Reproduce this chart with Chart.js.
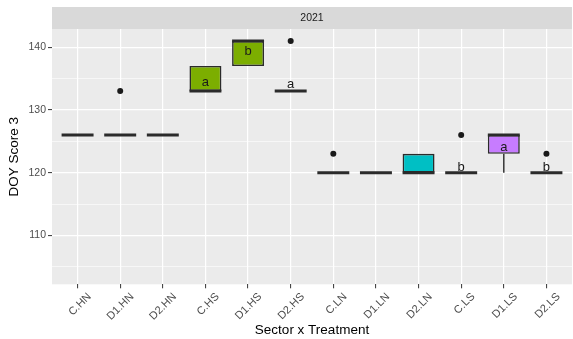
<!DOCTYPE html>
<html>
<head>
<meta charset="utf-8">
<title>DOY Score 3</title>
<script src="https://cdn.jsdelivr.net/npm/chart.js@4.4.0/dist/chart.umd.min.js"></script>
<style>
    body { margin: 0; background: #ffffff; overflow: hidden; }
    #wrap { position: relative; width: 576px; height: 339px; }
</style>
</head>
<body>
<div id="wrap"><canvas id="doyChart"></canvas></div>
<script>
'use strict';

//
// Data: DOY score 3 by sector x treatment (2021)
//

const groups = ['C.HN', 'D1.HN', 'D2.HN', 'C.HS', 'D1.HS', 'D2.HS', 'C.LN', 'D1.LN', 'D2.LN', 'C.LS', 'D1.LS', 'D2.LS'];
const treatments = ['HN', 'HN', 'HN', 'HS', 'HS', 'HS', 'LN', 'LN', 'LN', 'LS', 'LS', 'LS'];

const lowerQuartile = [126, 126, 126, 133, 137, 133, 120, 120, 120, 120, 123, 120];
const upperQuartile = [126, 126, 126, 137, 141, 133, 120, 120, 123, 120, 126, 120];
const medians       = [126, 126, 126, 133, 141, 133, 120, 120, 120, 120, 126, 120];
const whiskerLow    = [126, 126, 126, 133, 137, 133, 120, 120, 120, 120, 120, 120];
const whiskerHigh   = [126, 126, 126, 137, 141, 133, 120, 120, 123, 120, 126, 120];
const outliers      = [null, 133, null, null, null, 141, 123, null, null, 126, null, 123];

// significance letters and the value they sit on
const letters = ['', '', '', 'a', 'b', 'a', '', '', '', 'b', 'a', 'b'];
const letterY = [null, null, null, 133.8, 138.8, 133.5, null, null, null, 120.3, 123.5, 120.3];

const yTicks = [105, 110, 115, 120, 125, 130, 135, 140];
const stripLabel = '2021';

const treatmentColors = { HN: '#F8766D', HS: '#7CAE00', LN: '#00BFC4', LS: '#C77CFF' };

const FONT = '"Liberation Sans", Arial, sans-serif';
const HALF_BOX = 0.375;


//
// Build the box plot pieces
//

function boxData() {
    return groups.map((g, i) => ({ x: i, y: [lowerQuartile[i], upperQuartile[i]] }));
}

function medianData() {
    let pts = [];
    groups.forEach((g, i) => {
        pts.push({ x: i - HALF_BOX, y: medians[i] });
        pts.push({ x: i + HALF_BOX, y: medians[i] });
        pts.push({ x: i + 0.5, y: null });
    });
    return pts;
}

function whiskerData() {
    let pts = [];
    groups.forEach((g, i) => {
        if (whiskerLow[i] < lowerQuartile[i]) {
            pts.push({ x: i, y: whiskerLow[i] }, { x: i, y: lowerQuartile[i] }, { x: i, y: null });
        }
        if (whiskerHigh[i] > upperQuartile[i]) {
            pts.push({ x: i, y: upperQuartile[i] }, { x: i, y: whiskerHigh[i] }, { x: i, y: null });
        }
    });
    return pts;
}

function outlierData() {
    let pts = [];
    outliers.forEach((v, i) => {
        if (v !== null) pts.push({ x: i, y: v });
    });
    return pts;
}


// grey panel, facet strip and the letters
const panelPlugin = {
    id: 'panel',
    beforeDraw(chart) {
        const { ctx, chartArea } = chart;
        ctx.save();
        ctx.fillStyle = '#EBEBEB';
        ctx.fillRect(chartArea.left, chartArea.top, chartArea.right - chartArea.left, chartArea.bottom - chartArea.top);
        ctx.fillStyle = '#D9D9D9';
        ctx.fillRect(chartArea.left, 7, chartArea.right - chartArea.left, chartArea.top - 7);
        ctx.fillStyle = '#1A1A1A';
        ctx.font = '10.5px ' + FONT;
        ctx.textAlign = 'center';
        ctx.textBaseline = 'middle';
        ctx.fillText(stripLabel, (chartArea.left + chartArea.right) / 2, (7 + chartArea.top) / 2 + 0.5);
        ctx.restore();
    },
    afterDatasetsDraw(chart) {
        const ctx = chart.ctx;
        const xs = chart.scales.x;
        const ys = chart.scales.y;
        ctx.save();
        ctx.font = '13px ' + FONT;
        ctx.fillStyle = '#1A1A1A';
        ctx.textAlign = 'center';
        ctx.textBaseline = 'alphabetic';
        letters.forEach((t, i) => {
            if (!t) return;
            ctx.fillText(t, xs.getPixelForValue(i), ys.getPixelForValue(letterY[i]));
        });
        ctx.restore();
    }
};


Chart.defaults.font.family = FONT;

new Chart(document.getElementById('doyChart').getContext('2d'), {
    type: 'bar',
    data: {
        datasets: [
            {
                type: 'bar',
                data: boxData(),
                backgroundColor: treatments.map(t => treatmentColors[t]),
                borderColor: '#2B2B2B',
                borderWidth: 1.6,
                borderSkipped: false,
                barPercentage: 0.75,
                categoryPercentage: 1,
                order: 4
            },
            {
                type: 'line',
                data: whiskerData(),
                borderColor: '#333333',
                borderWidth: 1.5,
                pointRadius: 0,
                spanGaps: false,
                order: 3
            },
            {
                type: 'line',
                data: medianData(),
                borderColor: '#2B2B2B',
                borderWidth: 3,
                borderCapStyle: 'butt',
                pointRadius: 0,
                spanGaps: false,
                order: 2
            },
            {
                type: 'scatter',
                data: outlierData(),
                pointRadius: 3,
                pointBackgroundColor: '#1A1A1A',
                pointBorderWidth: 0,
                order: 1
            }
        ]
    },
    options: {
        responsive: true,
        maintainAspectRatio: false,
        animation: false,
        events: [],
        layout: { padding: { top: 29, left: 0, right: 0, bottom: 0 } },
        plugins: { legend: { display: false }, tooltip: { enabled: false } },
        scales: {
            x: {
                type: 'linear',
                min: -0.6,
                max: 11.6,
                offset: false,
                afterBuildTicks: s => { s.ticks = groups.map((g, i) => ({ value: i })); },
                afterFit: s => { s.height = 54.7; },
                ticks: {
                    callback: v => groups[v],
                    autoSkip: false,
                    minRotation: 45,
                    maxRotation: 45,
                    labelOffset: 12,
                    padding: 2,
                    color: '#4D4D4D',
                    font: { size: 11 }
                },
                grid: { offset: false, color: '#FFFFFF', lineWidth: 1.2, tickColor: '#333333', tickLength: 4, tickWidth: 1 },
                border: { display: false },
                title: {
                    display: true,
                    text: 'Sector x Treatment',
                    color: '#000000',
                    font: { size: 13.5 },
                    padding: { top: 0, bottom: 1 }
                }
            },
            y: {
                min: 102.2,
                max: 142.9,
                afterBuildTicks: s => { s.ticks = yTicks.map(v => ({ value: v })); },
                afterFit: s => { s.width = 52; },
                ticks: {
                    callback: v => (v % 10 === 0 ? v : ''),
                    padding: 2,
                    color: '#4D4D4D',
                    font: { size: 10.5 }
                },
                grid: {
                    color: '#FFFFFF',
                    lineWidth: c => (c.tick && c.tick.value % 10 === 0 ? 1.2 : 0.6),
                    tickColor: c => (c.tick && c.tick.value % 10 === 0 ? '#333333' : 'rgba(0,0,0,0)'),
                    tickLength: 4,
                    tickWidth: 1
                },
                border: { display: false },
                title: {
                    display: true,
                    text: 'DOY Score 3',
                    color: '#000000',
                    font: { size: 13.5 },
                    padding: { top: 6, bottom: 0 }
                }
            }
        }
    },
    plugins: [panelPlugin]
});
</script>
</body>
</html>
